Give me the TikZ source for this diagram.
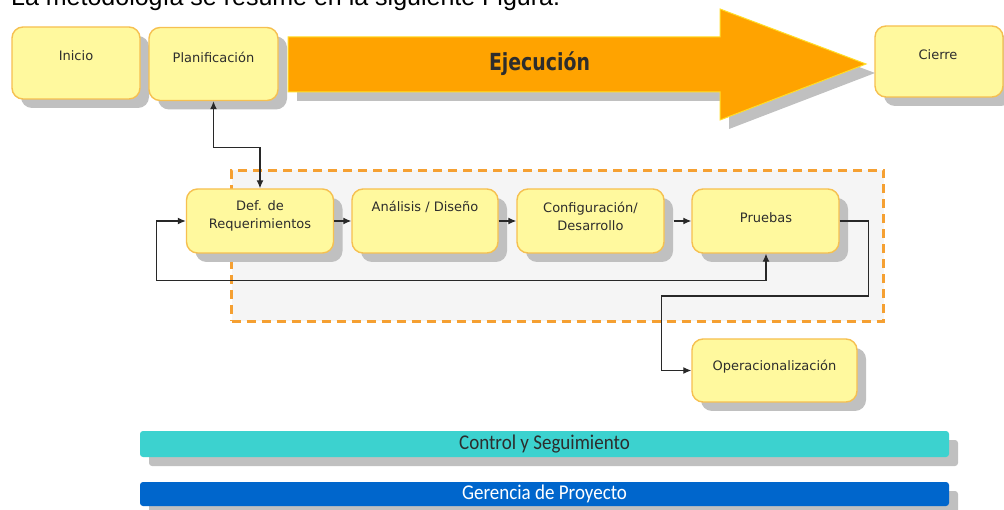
\documentclass[tikz,border=0pt]{standalone}
\usepackage{fontspec}
\setmainfont{DejaVu Sans}
\newfontfamily\carl{Carlito}
\newfontfamily\lib{Liberation Sans}
\usetikzlibrary{shadows,arrows.meta,calc}
\definecolor{boxfill}{RGB}{255,249,158}
\definecolor{boxline}{RGB}{246,192,80}
\definecolor{shade}{RGB}{192,192,192}
\definecolor{arrfill}{RGB}{255,163,0}
\definecolor{arrline}{RGB}{255,222,40}
\definecolor{phase}{RGB}{245,245,245}
\definecolor{dashc}{RGB}{245,160,50}
\definecolor{turq}{RGB}{60,210,207}
\definecolor{blu}{RGB}{0,102,204}
\definecolor{txt}{RGB}{45,45,45}
\definecolor{conn}{RGB}{40,40,40}
\begin{document}
\begin{tikzpicture}[x=1pt,y=-1pt,
  shad/.style={drop shadow={shadow xshift=9pt,shadow yshift=-9pt,fill=shade,opacity=1}},
  ybox/.style={draw=boxline,fill=boxfill,line width=1.4pt,rounded corners=11pt,shad,inner sep=0pt},
  lab/.style={font=\fontsize{13}{18}\selectfont,text=txt,align=center,inner sep=0pt},
  toplab/.style={font=\fontsize{13}{18}\selectfont,text=txt,align=center,inner sep=0pt},
  cn/.style={draw=conn,line width=1.2pt},
  bar/.style={rounded corners=3pt,minimum width=809pt,inner sep=0pt,
    drop shadow={shadow xshift=9pt,shadow yshift=-9pt,fill=shade,opacity=1}}
]
\useasboundingbox (0,0) rectangle (1004,510);
\clip (0,0) rectangle (1004,510);
\fill[white] (0,0) rectangle (1004,510);

% intro line (cut at top, as in the reference)
\node[anchor=base west,inner sep=0pt,font=\lib\fontsize{25}{25}\selectfont] (intro) at (11,5.5) {La metodología se resume en la siguiente Figura.};

% top row
\node[ybox,minimum width=128pt,minimum height=72pt] (ini) at (76,63) {};
\node[toplab] (init) at (76,56) {Inicio};
\node[ybox,minimum width=129pt,minimum height=73pt] (plan) at (213.5,64) {};
\node[toplab] (plant) at (213.5,57) {Planificación};
\node[ybox,minimum width=128pt,minimum height=71pt] (cie) at (939,61.5) {};
\node[toplab] (ciet) at (938,55) {Cierre};

% execution arrow
\path[fill=arrfill,draw=arrline,line width=1pt,shad]
  (288,37) -- (720,37) -- (720,9) -- (866,64) -- (720,120) -- (720,92) -- (288,92) -- cycle;
\node[font=\bfseries\fontsize{21}{21}\selectfont,text=txt,inner sep=0pt] (ejec) at (539.5,64) {\scalebox{0.9}[1.12]{Ejecución}};

% phase frame
\node[draw=dashc,fill=phase,line width=2.4pt,dash pattern=on 9pt off 6pt,minimum width=652pt,minimum height=151pt,inner sep=0pt] (fase) at (557.5,246) {};

% phase steps
\node[ybox,minimum width=147pt,minimum height=64pt] (def) at (260,221) {};
\node[lab] (deft) at (260,216) {Def. de\\Requerimientos};
\node[ybox,minimum width=146pt,minimum height=64pt] (ana) at (425,221) {};
\node[lab] (anat) at (425,207) {Análisis / Diseño};
\node[ybox,minimum width=147pt,minimum height=64pt] (conf) at (590.5,221) {};
\node[lab] (conft) at (590.5,216) {Configuración/\\Desarrollo};
\node[ybox,minimum width=147pt,minimum height=64pt] (prue) at (765.5,221) {};
\node[lab] (pruet) at (766,218) {Pruebas};
\node[ybox,minimum width=165pt,minimum height=63pt] (oper) at (774.5,370.5) {};
\node[lab] (opert) at (774.5,367) {Operacionalización};

% connectors
\draw[cn,{Latex[length=8pt,width=7pt]}-{Latex[length=8pt,width=7pt]}] (plan.south) -- ++(0,46) -| (def.north);
\draw[cn,-{Latex[length=8pt,width=7pt]}] (def.east) -- (ana.west);
\draw[cn,-{Latex[length=8pt,width=7pt]}] (ana.east) -- (conf.west);
\draw[cn,-{Latex[length=8pt,width=7pt]}] ([xshift=9pt]conf.east) -- (prue.west);
\draw[cn,{Latex[length=8pt,width=7pt]}-{Latex[length=8pt,width=7pt]}] (def.west) -- ++(-29.5,0) |- ($(prue.south)+(0.5,27)$) -- ([xshift=0.5pt]prue.south);
\draw[cn,-{Latex[length=8pt,width=7pt]}] (prue.east) -- ++(28.5,0) -- ++(0,75) -| ([xshift=-29.5pt]oper.west) -- (oper.west);

% bars
\node[bar,fill=turq,minimum height=26pt,text=txt,font=\carl\fontsize{20}{20}\selectfont] (ctrl) at (544.5,444) {\scalebox{0.95}[1.05]{Control y Seguimiento}};
\node[bar,fill=blu,minimum height=24pt,text=white,font=\carl\fontsize{20}{20}\selectfont] (ger) at (544.5,494) {\scalebox{0.95}[1.05]{Gerencia de Proyecto}};
\end{tikzpicture}
\end{document}
